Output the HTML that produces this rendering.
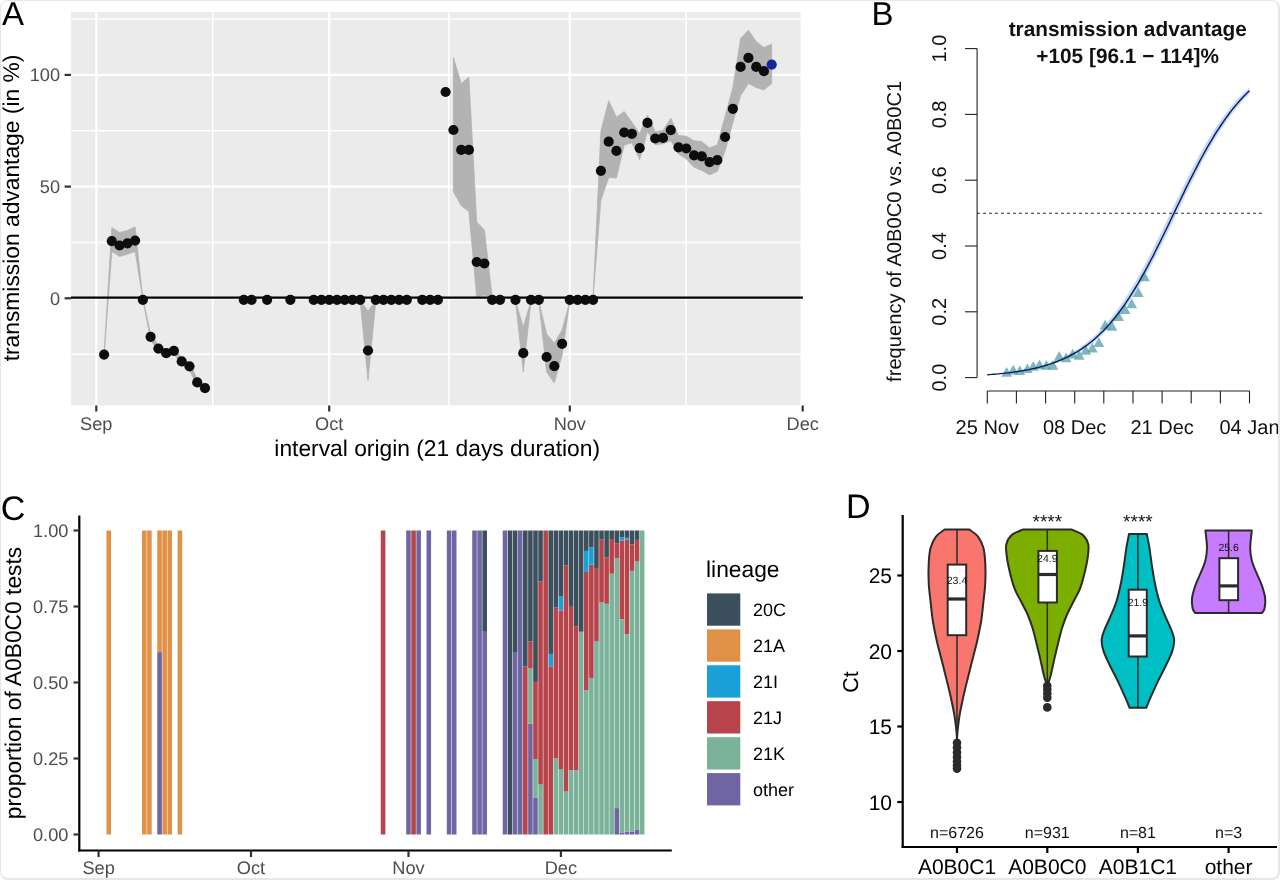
<!DOCTYPE html>
<html lang="en"><head><meta charset="utf-8"><title>Figure</title>
<style>
html,body{margin:0;padding:0;background:#fff;}
body{width:1280px;height:880px;overflow:hidden;position:relative;font-family:"Liberation Sans",Arial,sans-serif;}
svg{display:block;position:absolute;left:0;top:0;will-change:transform;}

.frame{position:absolute;left:0;top:0;width:1277px;height:877px;border-style:solid;border-color:#e6e6e6;border-width:1px 2px 2px 1px;border-radius:8px;pointer-events:none;}
</style></head><body>
<svg width="1280" height="880" viewBox="0 0 1280 880" text-rendering="geometricPrecision">
<g id="panelA">
<rect x="71.0" y="12.2" width="729.5" height="393.3" fill="#ebebeb"/>
<line x1="71.0" x2="800.5" y1="19.1" y2="19.1" stroke="#fff" stroke-width="1.5"/>
<line x1="71.0" x2="800.5" y1="130.8" y2="130.8" stroke="#fff" stroke-width="1.5"/>
<line x1="71.0" x2="800.5" y1="242.5" y2="242.5" stroke="#fff" stroke-width="1.5"/>
<line x1="71.0" x2="800.5" y1="354.2" y2="354.2" stroke="#fff" stroke-width="1.5"/>
<line x1="212.7" x2="212.7" y1="12.2" y2="405.5" stroke="#fff" stroke-width="1.5"/>
<line x1="448.8" x2="448.8" y1="12.2" y2="405.5" stroke="#fff" stroke-width="1.5"/>
<line x1="686.1" x2="686.1" y1="12.2" y2="405.5" stroke="#fff" stroke-width="1.5"/>
<line x1="71.0" x2="800.5" y1="74.9" y2="74.9" stroke="#fff" stroke-width="2.2"/>
<line x1="71.0" x2="800.5" y1="186.6" y2="186.6" stroke="#fff" stroke-width="2.2"/>
<line x1="71.0" x2="800.5" y1="298.3" y2="298.3" stroke="#fff" stroke-width="2.2"/>
<line x1="96.3" x2="96.3" y1="12.2" y2="405.5" stroke="#fff" stroke-width="2.2"/>
<line x1="329.2" x2="329.2" y1="12.2" y2="405.5" stroke="#fff" stroke-width="2.2"/>
<line x1="569.8" x2="569.8" y1="12.2" y2="405.5" stroke="#fff" stroke-width="2.2"/>
<line x1="802.7" x2="802.7" y1="12.2" y2="405.5" stroke="#fff" stroke-width="2.2"/>
<polygon points="104.1,354.6 111.8,227.7 119.6,232.4 127.4,230.5 135.1,226.9 142.9,299.5 150.6,333.5 158.4,345.5 166.2,350.0 173.9,347.5 181.7,358.0 189.5,363.0 197.2,379.0 205.0,385.0 205.0,391.0 197.2,386.0 189.5,370.0 181.7,365.0 173.9,354.0 166.2,356.5 158.4,352.0 150.6,340.0 142.9,299.5 135.1,251.5 127.4,254.2 119.6,256.4 111.8,251.5 104.1,354.6" fill="#b3b3b3" stroke="#b3b3b3" stroke-width="0.8" stroke-linejoin="round"/>
<polygon points="360.2,301.0 368.0,311.0 375.8,301.0 375.8,301.0 368.0,380.5 360.2,301.0" fill="#b3b3b3" stroke="#b3b3b3" stroke-width="0.8" stroke-linejoin="round"/>
<polygon points="453.4,57.4 461.2,83.4 468.9,77.2 476.7,222.0 484.4,230.0 492.2,297.0 492.2,297.0 484.4,295.0 476.7,297.0 468.9,211.5 461.2,205.7 453.4,191.4" fill="#b3b3b3" stroke="#b3b3b3" stroke-width="0.8" stroke-linejoin="round"/>
<polygon points="515.5,301.0 523.3,327.0 531.0,301.0 531.0,301.0 523.3,372.0 515.5,301.0" fill="#b3b3b3" stroke="#b3b3b3" stroke-width="0.8" stroke-linejoin="round"/>
<polygon points="538.8,301.0 546.6,334.0 554.3,343.0 562.1,330.0 569.8,301.0 569.8,301.0 562.1,355.0 554.3,383.0 546.6,372.0 538.8,301.0" fill="#b3b3b3" stroke="#b3b3b3" stroke-width="0.8" stroke-linejoin="round"/>
<polygon points="593.1,297.0 600.9,131.0 608.7,100.8 616.4,117.2 624.2,111.5 631.9,122.3 639.7,133.6 647.5,115.1 655.2,131.5 663.0,130.5 670.8,118.2 678.5,135.6 686.3,136.2 694.1,140.7 701.8,141.7 709.6,147.9 717.3,144.8 725.1,116.2 732.9,87.5 740.6,38.4 748.4,30.2 756.2,41.5 763.9,47.6 771.7,44.1 771.7,83.4 763.9,90.0 756.2,87.5 748.4,83.4 740.6,95.7 732.9,122.3 725.1,150.9 717.3,171.4 709.6,174.9 701.8,170.4 694.1,167.3 686.3,159.1 678.5,154.0 670.8,140.7 663.0,143.8 655.2,144.8 647.5,131.5 639.7,159.7 631.9,142.8 624.2,145.2 616.4,178.0 608.7,177.5 600.9,200.0 593.1,297.0" fill="#b3b3b3" stroke="#b3b3b3" stroke-width="0.8" stroke-linejoin="round"/>
<line x1="71.0" x2="802.9" y1="297.6" y2="297.6" stroke="#000" stroke-width="2.2"/>
<circle cx="104.1" cy="354.6" r="5.1" fill="#0d0d0d"/>
<circle cx="111.8" cy="241.1" r="5.1" fill="#0d0d0d"/>
<circle cx="119.6" cy="245.5" r="5.1" fill="#0d0d0d"/>
<circle cx="127.4" cy="243.3" r="5.1" fill="#0d0d0d"/>
<circle cx="135.1" cy="240.6" r="5.1" fill="#0d0d0d"/>
<circle cx="142.9" cy="299.8" r="5.1" fill="#0d0d0d"/>
<circle cx="150.6" cy="336.8" r="5.1" fill="#0d0d0d"/>
<circle cx="158.4" cy="348.6" r="5.1" fill="#0d0d0d"/>
<circle cx="166.2" cy="353.2" r="5.1" fill="#0d0d0d"/>
<circle cx="173.9" cy="350.8" r="5.1" fill="#0d0d0d"/>
<circle cx="181.7" cy="361.4" r="5.1" fill="#0d0d0d"/>
<circle cx="189.5" cy="366.3" r="5.1" fill="#0d0d0d"/>
<circle cx="197.2" cy="382.4" r="5.1" fill="#0d0d0d"/>
<circle cx="205.0" cy="388.1" r="5.1" fill="#0d0d0d"/>
<circle cx="243.8" cy="299.8" r="5.1" fill="#0d0d0d"/>
<circle cx="251.6" cy="299.8" r="5.1" fill="#0d0d0d"/>
<circle cx="267.1" cy="299.8" r="5.1" fill="#0d0d0d"/>
<circle cx="290.4" cy="299.8" r="5.1" fill="#0d0d0d"/>
<circle cx="313.7" cy="299.8" r="5.1" fill="#0d0d0d"/>
<circle cx="321.4" cy="299.8" r="5.1" fill="#0d0d0d"/>
<circle cx="329.2" cy="299.8" r="5.1" fill="#0d0d0d"/>
<circle cx="337.0" cy="299.8" r="5.1" fill="#0d0d0d"/>
<circle cx="344.7" cy="299.8" r="5.1" fill="#0d0d0d"/>
<circle cx="352.5" cy="299.8" r="5.1" fill="#0d0d0d"/>
<circle cx="360.2" cy="299.8" r="5.1" fill="#0d0d0d"/>
<circle cx="375.8" cy="299.8" r="5.1" fill="#0d0d0d"/>
<circle cx="383.5" cy="299.8" r="5.1" fill="#0d0d0d"/>
<circle cx="391.3" cy="299.8" r="5.1" fill="#0d0d0d"/>
<circle cx="399.1" cy="299.8" r="5.1" fill="#0d0d0d"/>
<circle cx="406.8" cy="299.8" r="5.1" fill="#0d0d0d"/>
<circle cx="422.3" cy="299.8" r="5.1" fill="#0d0d0d"/>
<circle cx="430.1" cy="299.8" r="5.1" fill="#0d0d0d"/>
<circle cx="437.9" cy="299.8" r="5.1" fill="#0d0d0d"/>
<circle cx="492.2" cy="299.8" r="5.1" fill="#0d0d0d"/>
<circle cx="500.0" cy="299.8" r="5.1" fill="#0d0d0d"/>
<circle cx="515.5" cy="299.8" r="5.1" fill="#0d0d0d"/>
<circle cx="531.0" cy="299.8" r="5.1" fill="#0d0d0d"/>
<circle cx="538.8" cy="299.8" r="5.1" fill="#0d0d0d"/>
<circle cx="569.8" cy="299.8" r="5.1" fill="#0d0d0d"/>
<circle cx="577.6" cy="299.8" r="5.1" fill="#0d0d0d"/>
<circle cx="585.4" cy="299.8" r="5.1" fill="#0d0d0d"/>
<circle cx="593.1" cy="299.8" r="5.1" fill="#0d0d0d"/>
<circle cx="368.0" cy="350.5" r="5.1" fill="#0d0d0d"/>
<circle cx="445.6" cy="92.0" r="5.1" fill="#0d0d0d"/>
<circle cx="453.4" cy="130.0" r="5.1" fill="#0d0d0d"/>
<circle cx="461.2" cy="149.9" r="5.1" fill="#0d0d0d"/>
<circle cx="468.9" cy="149.9" r="5.1" fill="#0d0d0d"/>
<circle cx="476.7" cy="262.0" r="5.1" fill="#0d0d0d"/>
<circle cx="484.4" cy="263.5" r="5.1" fill="#0d0d0d"/>
<circle cx="523.3" cy="353.2" r="5.1" fill="#0d0d0d"/>
<circle cx="546.6" cy="357.0" r="5.1" fill="#0d0d0d"/>
<circle cx="554.3" cy="366.2" r="5.1" fill="#0d0d0d"/>
<circle cx="562.1" cy="343.8" r="5.1" fill="#0d0d0d"/>
<circle cx="600.9" cy="170.8" r="5.1" fill="#0d0d0d"/>
<circle cx="608.7" cy="141.7" r="5.1" fill="#0d0d0d"/>
<circle cx="616.4" cy="150.9" r="5.1" fill="#0d0d0d"/>
<circle cx="624.2" cy="132.5" r="5.1" fill="#0d0d0d"/>
<circle cx="631.9" cy="133.8" r="5.1" fill="#0d0d0d"/>
<circle cx="639.7" cy="148.1" r="5.1" fill="#0d0d0d"/>
<circle cx="647.5" cy="122.9" r="5.1" fill="#0d0d0d"/>
<circle cx="655.2" cy="138.5" r="5.1" fill="#0d0d0d"/>
<circle cx="663.0" cy="137.9" r="5.1" fill="#0d0d0d"/>
<circle cx="670.8" cy="130.1" r="5.1" fill="#0d0d0d"/>
<circle cx="678.5" cy="147.3" r="5.1" fill="#0d0d0d"/>
<circle cx="686.3" cy="148.5" r="5.1" fill="#0d0d0d"/>
<circle cx="694.1" cy="155.4" r="5.1" fill="#0d0d0d"/>
<circle cx="701.8" cy="156.3" r="5.1" fill="#0d0d0d"/>
<circle cx="709.6" cy="162.2" r="5.1" fill="#0d0d0d"/>
<circle cx="717.3" cy="160.2" r="5.1" fill="#0d0d0d"/>
<circle cx="725.1" cy="137.0" r="5.1" fill="#0d0d0d"/>
<circle cx="732.9" cy="108.8" r="5.1" fill="#0d0d0d"/>
<circle cx="740.6" cy="66.9" r="5.1" fill="#0d0d0d"/>
<circle cx="748.4" cy="57.9" r="5.1" fill="#0d0d0d"/>
<circle cx="756.2" cy="66.9" r="5.1" fill="#0d0d0d"/>
<circle cx="763.9" cy="71.2" r="5.1" fill="#0d0d0d"/>
<circle cx="771.7" cy="64.6" r="5.1" fill="#16269a"/>
<line x1="64.6" x2="71.0" y1="74.9" y2="74.9" stroke="#333" stroke-width="2.2"/>
<text x="60.1" y="81.4" text-anchor="end" font-size="18.2" fill="#4d4d4d" font-family="Liberation Sans, Arial, Helvetica, sans-serif">100</text>
<line x1="64.6" x2="71.0" y1="186.6" y2="186.6" stroke="#333" stroke-width="2.2"/>
<text x="60.1" y="193.1" text-anchor="end" font-size="18.2" fill="#4d4d4d" font-family="Liberation Sans, Arial, Helvetica, sans-serif">50</text>
<line x1="64.6" x2="71.0" y1="298.3" y2="298.3" stroke="#333" stroke-width="2.2"/>
<text x="60.1" y="304.8" text-anchor="end" font-size="18.2" fill="#4d4d4d" font-family="Liberation Sans, Arial, Helvetica, sans-serif">0</text>
<line x1="96.3" x2="96.3" y1="405.5" y2="411.5" stroke="#333" stroke-width="2.2"/>
<text x="96.3" y="430" text-anchor="middle" font-size="18.2" fill="#4d4d4d" font-family="Liberation Sans, Arial, Helvetica, sans-serif">Sep</text>
<line x1="329.2" x2="329.2" y1="405.5" y2="411.5" stroke="#333" stroke-width="2.2"/>
<text x="329.2" y="430" text-anchor="middle" font-size="18.2" fill="#4d4d4d" font-family="Liberation Sans, Arial, Helvetica, sans-serif">Oct</text>
<line x1="569.8" x2="569.8" y1="405.5" y2="411.5" stroke="#333" stroke-width="2.2"/>
<text x="569.8" y="430" text-anchor="middle" font-size="18.2" fill="#4d4d4d" font-family="Liberation Sans, Arial, Helvetica, sans-serif">Nov</text>
<line x1="802.7" x2="802.7" y1="405.5" y2="411.5" stroke="#333" stroke-width="2.2"/>
<text x="802.7" y="430" text-anchor="middle" font-size="18.2" fill="#4d4d4d" font-family="Liberation Sans, Arial, Helvetica, sans-serif">Dec</text>
<text x="437.2" y="455.5" text-anchor="middle" font-size="22.8" fill="#000" font-family="Liberation Sans, Arial, Helvetica, sans-serif">interval origin (21 days duration)</text>
<text transform="translate(19,208) rotate(-90)" text-anchor="middle" font-size="22.8" fill="#000" font-family="Liberation Sans, Arial, Helvetica, sans-serif">transmission advantage (in %)</text>
<text x="1.9" y="25" font-size="33" fill="#000" font-family="Liberation Sans, Arial, Helvetica, sans-serif">A</text>
</g>
<g id="panelB">
<text x="871.4" y="25" font-size="33" fill="#000" font-family="Liberation Sans, Arial, Helvetica, sans-serif">B</text>
<polygon points="987.3,374.5 989.5,374.3 991.7,374.1 993.9,373.9 996.0,373.7 998.2,373.5 1000.4,373.3 1002.6,373.0 1004.8,372.8 1007.0,372.5 1009.1,372.2 1011.3,371.9 1013.5,371.6 1015.7,371.3 1017.9,370.9 1020.1,370.5 1022.3,370.1 1024.4,369.7 1026.6,369.3 1028.8,368.8 1031.0,368.3 1033.2,367.8 1035.4,367.3 1037.6,366.7 1039.7,366.1 1041.9,365.5 1044.1,364.8 1046.3,364.1 1048.5,363.4 1050.7,362.6 1052.8,361.8 1055.0,360.9 1057.2,360.0 1059.4,359.1 1061.6,358.1 1063.8,357.0 1066.0,355.9 1068.1,354.8 1070.3,353.6 1072.5,352.3 1074.7,351.0 1076.9,349.6 1079.1,348.2 1081.3,346.6 1083.4,345.0 1085.6,343.4 1087.8,341.6 1090.0,339.8 1092.2,337.9 1094.4,335.9 1096.5,333.9 1098.7,331.7 1100.9,329.5 1103.1,327.2 1105.3,324.8 1107.5,322.3 1109.7,319.7 1111.8,317.0 1114.0,314.2 1116.2,311.3 1118.4,308.3 1120.6,305.2 1122.8,302.0 1125.0,298.7 1127.1,295.4 1129.3,291.9 1131.5,288.3 1133.7,284.7 1135.9,280.9 1138.1,277.1 1140.2,273.2 1142.4,269.2 1144.6,265.1 1146.8,261.0 1149.0,256.8 1151.2,252.5 1153.4,248.2 1155.5,243.8 1157.7,239.3 1159.9,234.9 1162.1,230.4 1164.3,225.8 1166.5,221.3 1168.7,216.7 1170.8,212.2 1173.0,207.6 1175.2,203.1 1177.4,198.5 1179.6,194.0 1181.8,189.5 1184.0,185.1 1186.1,180.7 1188.3,176.3 1190.5,172.0 1192.7,167.7 1194.9,163.6 1197.1,159.4 1199.2,155.4 1201.4,151.4 1203.6,147.6 1205.8,143.8 1208.0,140.0 1210.2,136.4 1212.4,132.9 1214.5,129.5 1216.7,126.1 1218.9,122.9 1221.1,119.7 1223.3,116.7 1225.5,113.8 1227.7,110.9 1229.8,108.1 1232.0,105.5 1234.2,102.9 1236.4,100.5 1238.6,98.1 1240.8,95.8 1242.9,93.6 1245.1,91.5 1247.3,89.4 1249.5,87.5 1249.5,93.6 1247.3,95.8 1245.1,98.1 1242.9,100.5 1240.8,103.0 1238.6,105.5 1236.4,108.2 1234.2,111.0 1232.0,113.8 1229.8,116.8 1227.7,119.8 1225.5,123.0 1223.3,126.2 1221.1,129.5 1218.9,133.0 1216.7,136.5 1214.5,140.1 1212.4,143.8 1210.2,147.6 1208.0,151.5 1205.8,155.5 1203.6,159.5 1201.4,163.6 1199.2,167.8 1197.1,172.1 1194.9,176.4 1192.7,180.7 1190.5,185.2 1188.3,189.6 1186.1,194.1 1184.0,198.6 1181.8,203.2 1179.6,207.7 1177.4,212.3 1175.2,216.8 1173.0,221.4 1170.8,225.9 1168.7,230.5 1166.5,235.0 1164.3,239.4 1162.1,243.9 1159.9,248.2 1157.7,252.6 1155.5,256.8 1153.4,261.1 1151.2,265.2 1149.0,269.3 1146.8,273.3 1144.6,277.2 1142.4,281.0 1140.2,284.7 1138.1,288.4 1135.9,292.0 1133.7,295.4 1131.5,298.8 1129.3,302.1 1127.1,305.3 1125.0,308.3 1122.8,311.3 1120.6,314.2 1118.4,317.0 1116.2,319.7 1114.0,322.3 1111.8,324.8 1109.7,327.2 1107.5,329.6 1105.3,331.8 1103.1,333.9 1100.9,336.0 1098.7,338.0 1096.5,339.9 1094.4,341.7 1092.2,343.4 1090.0,345.1 1087.8,346.7 1085.6,348.2 1083.4,349.6 1081.3,351.0 1079.1,352.4 1076.9,353.6 1074.7,354.8 1072.5,356.0 1070.3,357.1 1068.1,358.1 1066.0,359.1 1063.8,360.0 1061.6,360.9 1059.4,361.8 1057.2,362.6 1055.0,363.4 1052.8,364.1 1050.7,364.8 1048.5,365.5 1046.3,366.1 1044.1,366.7 1041.9,367.3 1039.7,367.8 1037.6,368.3 1035.4,368.8 1033.2,369.3 1031.0,369.7 1028.8,370.1 1026.6,370.5 1024.4,370.9 1022.3,371.3 1020.1,371.6 1017.9,371.9 1015.7,372.2 1013.5,372.5 1011.3,372.8 1009.1,373.0 1007.0,373.3 1004.8,373.5 1002.6,373.7 1000.4,373.9 998.2,374.1 996.0,374.3 993.9,374.5 991.7,374.7 989.5,374.8 987.3,375.0" fill="#c3d8f5"/>
<polygon points="1001.3,376.7 1012.1,376.7 1006.7,367.0" fill="#5ba3ac" fill-opacity="0.78"/>
<polygon points="1007.8,374.4 1018.6,374.4 1013.2,364.7" fill="#5ba3ac" fill-opacity="0.78"/>
<polygon points="1014.4,375.1 1025.2,375.1 1019.8,365.4" fill="#5ba3ac" fill-opacity="0.78"/>
<polygon points="1021.9,373.1 1032.7,373.1 1027.3,363.4" fill="#5ba3ac" fill-opacity="0.78"/>
<polygon points="1027.9,370.8 1038.7,370.8 1033.3,361.1" fill="#5ba3ac" fill-opacity="0.78"/>
<polygon points="1034.1,369.2 1044.9,369.2 1039.5,359.5" fill="#5ba3ac" fill-opacity="0.78"/>
<polygon points="1041.0,369.8 1051.8,369.8 1046.4,360.1" fill="#5ba3ac" fill-opacity="0.78"/>
<polygon points="1047.5,369.8 1058.3,369.8 1052.9,360.1" fill="#5ba3ac" fill-opacity="0.78"/>
<polygon points="1053.8,360.7 1064.6,360.7 1059.2,351.0" fill="#5ba3ac" fill-opacity="0.78"/>
<polygon points="1060.7,362.3 1071.5,362.3 1066.1,352.6" fill="#5ba3ac" fill-opacity="0.78"/>
<polygon points="1067.2,358.4 1078.0,358.4 1072.6,348.7" fill="#5ba3ac" fill-opacity="0.78"/>
<polygon points="1073.8,359.7 1084.6,359.7 1079.2,350.0" fill="#5ba3ac" fill-opacity="0.78"/>
<polygon points="1080.4,354.8 1091.2,354.8 1085.8,345.1" fill="#5ba3ac" fill-opacity="0.78"/>
<polygon points="1086.9,352.5 1097.7,352.5 1092.3,342.8" fill="#5ba3ac" fill-opacity="0.78"/>
<polygon points="1093.5,346.9 1104.3,346.9 1098.9,337.2" fill="#5ba3ac" fill-opacity="0.78"/>
<polygon points="1099.7,329.5 1110.5,329.5 1105.1,319.8" fill="#5ba3ac" fill-opacity="0.78"/>
<polygon points="1106.6,330.8 1117.4,330.8 1112.0,321.1" fill="#5ba3ac" fill-opacity="0.78"/>
<polygon points="1113.2,321.0 1124.0,321.0 1118.6,311.3" fill="#5ba3ac" fill-opacity="0.78"/>
<polygon points="1119.7,314.1 1130.5,314.1 1125.1,304.4" fill="#5ba3ac" fill-opacity="0.78"/>
<polygon points="1126.3,308.2 1137.1,308.2 1131.7,298.5" fill="#5ba3ac" fill-opacity="0.78"/>
<polygon points="1132.9,297.0 1143.7,297.0 1138.3,287.3" fill="#5ba3ac" fill-opacity="0.78"/>
<polygon points="1139.1,281.3 1149.9,281.3 1144.5,271.6" fill="#5ba3ac" fill-opacity="0.78"/>
<polyline points="987.3,374.8 989.5,374.6 991.7,374.4 993.9,374.2 996.0,374.1 998.2,373.9 1000.4,373.6 1002.6,373.4 1004.8,373.2 1007.0,372.9 1009.1,372.7 1011.3,372.4 1013.5,372.1 1015.7,371.8 1017.9,371.5 1020.1,371.1 1022.3,370.8 1024.4,370.4 1026.6,370.0 1028.8,369.6 1031.0,369.1 1033.2,368.6 1035.4,368.2 1037.6,367.6 1039.7,367.1 1041.9,366.5 1044.1,365.9 1046.3,365.2 1048.5,364.6 1050.7,363.9 1052.8,363.1 1055.0,362.3 1057.2,361.5 1059.4,360.6 1061.6,359.7 1063.8,358.7 1066.0,357.7 1068.1,356.7 1070.3,355.5 1072.5,354.4 1074.7,353.2 1076.9,351.9 1079.1,350.5 1081.3,349.1 1083.4,347.6 1085.6,346.1 1087.8,344.5 1090.0,342.8 1092.2,341.0 1094.4,339.2 1096.5,337.2 1098.7,335.2 1100.9,333.1 1103.1,331.0 1105.3,328.7 1107.5,326.3 1109.7,323.9 1111.8,321.3 1114.0,318.7 1116.2,316.0 1118.4,313.2 1120.6,310.2 1122.8,307.2 1125.0,304.1 1127.1,300.9 1129.3,297.6 1131.5,294.1 1133.7,290.6 1135.9,287.0 1138.1,283.4 1140.2,279.6 1142.4,275.7 1144.6,271.8 1146.8,267.8 1149.0,263.7 1151.2,259.5 1153.4,255.3 1155.5,251.0 1157.7,246.6 1159.9,242.2 1162.1,237.8 1164.3,233.3 1166.5,228.8 1168.7,224.2 1170.8,219.7 1173.0,215.1 1175.2,210.6 1177.4,206.0 1179.6,201.5 1181.8,196.9 1184.0,192.4 1186.1,187.9 1188.3,183.5 1190.5,179.1 1192.7,174.8 1194.9,170.5 1197.1,166.3 1199.2,162.1 1201.4,158.0 1203.6,154.0 1205.8,150.1 1208.0,146.2 1210.2,142.4 1212.4,138.8 1214.5,135.2 1216.7,131.7 1218.9,128.3 1221.1,125.0 1223.3,121.8 1225.5,118.7 1227.7,115.7 1229.8,112.7 1232.0,109.9 1234.2,107.2 1236.4,104.6 1238.6,102.0 1240.8,99.6 1242.9,97.3 1245.1,95.0 1247.3,92.8 1249.5,90.8" fill="none" stroke="#0a1f5c" stroke-width="1.45"/>
<line x1="977.1" x2="1262" y1="213.2" y2="213.2" stroke="#222" stroke-width="1.1" stroke-dasharray="2.8,3.2"/>
<line x1="977.1" x2="977.1" y1="48.6" y2="377.6" stroke="#222" stroke-width="1.1"/>
<line x1="965" x2="977.1" y1="377.6" y2="377.6" stroke="#222" stroke-width="1.1"/>
<text transform="translate(946.2,377.6) rotate(-90)" text-anchor="middle" font-size="20" fill="#111" font-family="Liberation Sans, Arial, Helvetica, sans-serif">0.0</text>
<line x1="965" x2="977.1" y1="311.8" y2="311.8" stroke="#222" stroke-width="1.1"/>
<text transform="translate(946.2,311.8) rotate(-90)" text-anchor="middle" font-size="20" fill="#111" font-family="Liberation Sans, Arial, Helvetica, sans-serif">0.2</text>
<line x1="965" x2="977.1" y1="246.0" y2="246.0" stroke="#222" stroke-width="1.1"/>
<text transform="translate(946.2,246.0) rotate(-90)" text-anchor="middle" font-size="20" fill="#111" font-family="Liberation Sans, Arial, Helvetica, sans-serif">0.4</text>
<line x1="965" x2="977.1" y1="180.2" y2="180.2" stroke="#222" stroke-width="1.1"/>
<text transform="translate(946.2,180.2) rotate(-90)" text-anchor="middle" font-size="20" fill="#111" font-family="Liberation Sans, Arial, Helvetica, sans-serif">0.6</text>
<line x1="965" x2="977.1" y1="114.4" y2="114.4" stroke="#222" stroke-width="1.1"/>
<text transform="translate(946.2,114.4) rotate(-90)" text-anchor="middle" font-size="20" fill="#111" font-family="Liberation Sans, Arial, Helvetica, sans-serif">0.8</text>
<line x1="965" x2="977.1" y1="48.6" y2="48.6" stroke="#222" stroke-width="1.1"/>
<text transform="translate(946.2,48.6) rotate(-90)" text-anchor="middle" font-size="20" fill="#111" font-family="Liberation Sans, Arial, Helvetica, sans-serif">1.0</text>
<line x1="987.3" x2="1249.5" y1="391" y2="391" stroke="#222" stroke-width="1.1"/>
<line x1="987.3" x2="987.3" y1="391" y2="403.4" stroke="#222" stroke-width="1.1"/>
<line x1="1016.4" x2="1016.4" y1="391" y2="403.4" stroke="#222" stroke-width="1.1"/>
<line x1="1045.6" x2="1045.6" y1="391" y2="403.4" stroke="#222" stroke-width="1.1"/>
<line x1="1074.7" x2="1074.7" y1="391" y2="403.4" stroke="#222" stroke-width="1.1"/>
<line x1="1103.8" x2="1103.8" y1="391" y2="403.4" stroke="#222" stroke-width="1.1"/>
<line x1="1133.0" x2="1133.0" y1="391" y2="403.4" stroke="#222" stroke-width="1.1"/>
<line x1="1162.1" x2="1162.1" y1="391" y2="403.4" stroke="#222" stroke-width="1.1"/>
<line x1="1191.2" x2="1191.2" y1="391" y2="403.4" stroke="#222" stroke-width="1.1"/>
<line x1="1220.4" x2="1220.4" y1="391" y2="403.4" stroke="#222" stroke-width="1.1"/>
<line x1="1249.5" x2="1249.5" y1="391" y2="403.4" stroke="#222" stroke-width="1.1"/>
<text x="987.3" y="433.8" text-anchor="middle" font-size="20" fill="#111" font-family="Liberation Sans, Arial, Helvetica, sans-serif">25 Nov</text>
<text x="1074.7" y="433.8" text-anchor="middle" font-size="20" fill="#111" font-family="Liberation Sans, Arial, Helvetica, sans-serif">08 Dec</text>
<text x="1162.1" y="433.8" text-anchor="middle" font-size="20" fill="#111" font-family="Liberation Sans, Arial, Helvetica, sans-serif">21 Dec</text>
<text x="1249.5" y="433.8" text-anchor="middle" font-size="20" fill="#111" font-family="Liberation Sans, Arial, Helvetica, sans-serif">04 Jan</text>
<text transform="translate(900.6,231.3) rotate(-90)" text-anchor="middle" font-size="20.15" fill="#111" font-family="Liberation Sans, Arial, Helvetica, sans-serif">frequency of A0B0C0 vs. A0B0C1</text>
<text x="1127.7" y="36.2" text-anchor="middle" font-size="20.8" font-weight="bold" fill="#111" font-family="Liberation Sans, Arial, Helvetica, sans-serif">transmission advantage</text>
<text x="1127.7" y="63.1" text-anchor="middle" font-size="20.8" font-weight="bold" fill="#111" font-family="Liberation Sans, Arial, Helvetica, sans-serif">+105 [96.1 − 114]%</text>
</g>
<g id="panelC">
<text x="0.8" y="519.7" font-size="34" fill="#000" font-family="Liberation Sans, Arial, Helvetica, sans-serif">C</text>
<rect x="106.47" y="530.5" width="4.57" height="304.0" fill="#e09148"/>
<rect x="142.03" y="530.5" width="4.57" height="304.0" fill="#e09148"/>
<rect x="147.11" y="530.5" width="4.57" height="304.0" fill="#e09148"/>
<rect x="162.35" y="530.5" width="4.57" height="304.0" fill="#e09148"/>
<rect x="167.44" y="530.5" width="4.57" height="304.0" fill="#e09148"/>
<rect x="177.59" y="530.5" width="4.57" height="304.0" fill="#e09148"/>
<rect x="157.28" y="652.1" width="4.57" height="182.4" fill="#6f65a3"/>
<rect x="157.28" y="530.5" width="4.57" height="121.6" fill="#e09148"/>
<rect x="380.80" y="530.5" width="4.57" height="304.0" fill="#b6444a"/>
<rect x="406.19" y="530.5" width="4.57" height="304.0" fill="#6f65a3"/>
<rect x="416.35" y="530.5" width="4.57" height="304.0" fill="#6f65a3"/>
<rect x="426.51" y="530.5" width="4.57" height="304.0" fill="#6f65a3"/>
<rect x="446.83" y="530.5" width="4.57" height="304.0" fill="#6f65a3"/>
<rect x="451.92" y="530.5" width="4.57" height="304.0" fill="#6f65a3"/>
<rect x="472.23" y="530.5" width="4.57" height="304.0" fill="#6f65a3"/>
<rect x="477.31" y="530.5" width="4.57" height="304.0" fill="#6f65a3"/>
<rect x="411.27" y="530.5" width="4.57" height="304.0" fill="#b6444a"/>
<rect x="482.39" y="631.7" width="4.57" height="202.8" fill="#6f65a3"/>
<rect x="482.39" y="530.5" width="4.57" height="101.2" fill="#3b4f5c"/>
<rect x="502.71" y="530.5" width="4.57" height="304.0" fill="#6f65a3"/>
<rect x="507.80" y="530.5" width="4.57" height="304.0" fill="#3b4f5c"/>
<rect x="512.88" y="652.7" width="4.57" height="181.8" fill="#6f65a3"/>
<rect x="512.88" y="530.5" width="4.57" height="122.2" fill="#3b4f5c"/>
<rect x="517.96" y="530.5" width="4.57" height="304.0" fill="#6f65a3"/>
<rect x="523.04" y="666.4" width="4.57" height="168.1" fill="#b6444a"/>
<rect x="523.04" y="530.5" width="4.57" height="135.9" fill="#3b4f5c"/>
<rect x="528.12" y="723.5" width="4.57" height="111.0" fill="#6f65a3"/>
<rect x="528.12" y="668.2" width="4.57" height="55.3" fill="#7bb39a"/>
<rect x="528.12" y="641.5" width="4.57" height="26.8" fill="#b6444a"/>
<rect x="528.12" y="530.5" width="4.57" height="111.0" fill="#3b4f5c"/>
<rect x="533.20" y="797.4" width="4.57" height="37.1" fill="#6f65a3"/>
<rect x="533.20" y="759.1" width="4.57" height="38.3" fill="#7bb39a"/>
<rect x="533.20" y="681.9" width="4.57" height="77.2" fill="#b6444a"/>
<rect x="533.20" y="530.5" width="4.57" height="151.4" fill="#3b4f5c"/>
<rect x="538.27" y="784.0" width="4.57" height="50.5" fill="#7bb39a"/>
<rect x="538.27" y="581.6" width="4.57" height="202.5" fill="#b6444a"/>
<rect x="538.27" y="530.5" width="4.57" height="51.1" fill="#3b4f5c"/>
<rect x="543.36" y="530.5" width="4.57" height="304.0" fill="#b6444a"/>
<rect x="548.44" y="666.4" width="4.57" height="168.1" fill="#b6444a"/>
<rect x="548.44" y="653.9" width="4.57" height="12.5" fill="#1a9fd6"/>
<rect x="548.44" y="530.5" width="4.57" height="123.4" fill="#3b4f5c"/>
<rect x="553.51" y="758.2" width="4.57" height="76.3" fill="#7bb39a"/>
<rect x="553.51" y="607.4" width="4.57" height="150.8" fill="#b6444a"/>
<rect x="553.51" y="530.5" width="4.57" height="76.9" fill="#3b4f5c"/>
<rect x="558.60" y="769.1" width="4.57" height="65.4" fill="#7bb39a"/>
<rect x="558.60" y="610.5" width="4.57" height="158.7" fill="#b6444a"/>
<rect x="558.60" y="596.5" width="4.57" height="14.0" fill="#1a9fd6"/>
<rect x="558.60" y="530.5" width="4.57" height="66.0" fill="#3b4f5c"/>
<rect x="563.68" y="791.3" width="4.57" height="43.2" fill="#7bb39a"/>
<rect x="563.68" y="565.5" width="4.57" height="225.9" fill="#b6444a"/>
<rect x="563.68" y="530.5" width="4.57" height="35.0" fill="#3b4f5c"/>
<rect x="568.75" y="770.1" width="4.57" height="64.4" fill="#7bb39a"/>
<rect x="568.75" y="606.8" width="4.57" height="163.2" fill="#b6444a"/>
<rect x="568.75" y="530.5" width="4.57" height="76.3" fill="#3b4f5c"/>
<rect x="573.84" y="770.4" width="4.57" height="64.1" fill="#7bb39a"/>
<rect x="573.84" y="626.3" width="4.57" height="144.1" fill="#b6444a"/>
<rect x="573.84" y="530.5" width="4.57" height="95.8" fill="#3b4f5c"/>
<rect x="578.92" y="631.7" width="4.57" height="202.8" fill="#7bb39a"/>
<rect x="578.92" y="530.5" width="4.57" height="101.2" fill="#3b4f5c"/>
<rect x="584.00" y="690.4" width="4.57" height="144.1" fill="#7bb39a"/>
<rect x="584.00" y="571.8" width="4.57" height="118.6" fill="#b6444a"/>
<rect x="584.00" y="550.9" width="4.57" height="21.0" fill="#1a9fd6"/>
<rect x="584.00" y="530.5" width="4.57" height="20.4" fill="#3b4f5c"/>
<rect x="589.08" y="677.9" width="4.57" height="156.6" fill="#7bb39a"/>
<rect x="589.08" y="564.5" width="4.57" height="113.4" fill="#b6444a"/>
<rect x="589.08" y="547.2" width="4.57" height="17.3" fill="#1a9fd6"/>
<rect x="589.08" y="530.5" width="4.57" height="16.7" fill="#3b4f5c"/>
<rect x="594.16" y="641.5" width="4.57" height="193.0" fill="#7bb39a"/>
<rect x="594.16" y="568.8" width="4.57" height="72.7" fill="#b6444a"/>
<rect x="594.16" y="530.5" width="4.57" height="38.3" fill="#3b4f5c"/>
<rect x="599.24" y="602.2" width="4.57" height="232.3" fill="#7bb39a"/>
<rect x="599.24" y="539.6" width="4.57" height="62.6" fill="#b6444a"/>
<rect x="599.24" y="530.5" width="4.57" height="9.1" fill="#3b4f5c"/>
<rect x="604.32" y="603.8" width="4.57" height="230.7" fill="#7bb39a"/>
<rect x="604.32" y="557.3" width="4.57" height="46.5" fill="#b6444a"/>
<rect x="604.32" y="530.5" width="4.57" height="26.8" fill="#3b4f5c"/>
<rect x="609.40" y="573.7" width="4.57" height="260.8" fill="#7bb39a"/>
<rect x="609.40" y="539.0" width="4.57" height="34.7" fill="#b6444a"/>
<rect x="609.40" y="530.5" width="4.57" height="8.5" fill="#3b4f5c"/>
<rect x="614.48" y="808.1" width="4.57" height="26.4" fill="#6f65a3"/>
<rect x="614.48" y="558.2" width="4.57" height="249.9" fill="#7bb39a"/>
<rect x="614.48" y="543.6" width="4.57" height="14.6" fill="#b6444a"/>
<rect x="614.48" y="530.5" width="4.57" height="13.1" fill="#3b4f5c"/>
<rect x="619.56" y="832.4" width="4.57" height="2.1" fill="#6f65a3"/>
<rect x="619.56" y="619.3" width="4.57" height="213.1" fill="#7bb39a"/>
<rect x="619.56" y="540.5" width="4.57" height="78.7" fill="#b6444a"/>
<rect x="619.56" y="537.2" width="4.57" height="3.3" fill="#1a9fd6"/>
<rect x="619.56" y="530.5" width="4.57" height="6.7" fill="#3b4f5c"/>
<rect x="624.64" y="831.5" width="4.57" height="3.0" fill="#6f65a3"/>
<rect x="624.64" y="634.2" width="4.57" height="197.3" fill="#7bb39a"/>
<rect x="624.64" y="539.6" width="4.57" height="94.5" fill="#b6444a"/>
<rect x="624.64" y="537.8" width="4.57" height="1.8" fill="#1a9fd6"/>
<rect x="624.64" y="530.5" width="4.57" height="7.3" fill="#3b4f5c"/>
<rect x="629.72" y="831.5" width="4.57" height="3.0" fill="#6f65a3"/>
<rect x="629.72" y="570.9" width="4.57" height="260.5" fill="#7bb39a"/>
<rect x="629.72" y="544.5" width="4.57" height="26.4" fill="#b6444a"/>
<rect x="629.72" y="530.5" width="4.57" height="14.0" fill="#3b4f5c"/>
<rect x="634.80" y="829.9" width="4.57" height="4.6" fill="#6f65a3"/>
<rect x="634.80" y="561.5" width="4.57" height="268.4" fill="#7bb39a"/>
<rect x="634.80" y="539.9" width="4.57" height="21.6" fill="#b6444a"/>
<rect x="634.80" y="530.5" width="4.57" height="9.4" fill="#3b4f5c"/>
<rect x="639.88" y="530.5" width="4.57" height="304.0" fill="#7bb39a"/>
<line x1="79.3" x2="79.3" y1="515.5" y2="851.5" stroke="#000" stroke-width="2.2"/>
<line x1="78.3" x2="671.8" y1="850.5" y2="850.5" stroke="#000" stroke-width="2.2"/>
<line x1="73.5" x2="79.3" y1="530.5" y2="530.5" stroke="#333" stroke-width="2.2"/>
<text x="68.4" y="537.1" text-anchor="end" font-size="18.2" fill="#4d4d4d" font-family="Liberation Sans, Arial, Helvetica, sans-serif">1.00</text>
<line x1="73.5" x2="79.3" y1="606.5" y2="606.5" stroke="#333" stroke-width="2.2"/>
<text x="68.4" y="613.1" text-anchor="end" font-size="18.2" fill="#4d4d4d" font-family="Liberation Sans, Arial, Helvetica, sans-serif">0.75</text>
<line x1="73.5" x2="79.3" y1="682.5" y2="682.5" stroke="#333" stroke-width="2.2"/>
<text x="68.4" y="689.1" text-anchor="end" font-size="18.2" fill="#4d4d4d" font-family="Liberation Sans, Arial, Helvetica, sans-serif">0.50</text>
<line x1="73.5" x2="79.3" y1="758.5" y2="758.5" stroke="#333" stroke-width="2.2"/>
<text x="68.4" y="765.1" text-anchor="end" font-size="18.2" fill="#4d4d4d" font-family="Liberation Sans, Arial, Helvetica, sans-serif">0.25</text>
<line x1="73.5" x2="79.3" y1="834.5" y2="834.5" stroke="#333" stroke-width="2.2"/>
<text x="68.4" y="841.1" text-anchor="end" font-size="18.2" fill="#4d4d4d" font-family="Liberation Sans, Arial, Helvetica, sans-serif">0.00</text>
<line x1="98.6" x2="98.6" y1="850.5" y2="857" stroke="#333" stroke-width="2.2"/>
<text x="98.6" y="873.9" text-anchor="middle" font-size="18.2" fill="#4d4d4d" font-family="Liberation Sans, Arial, Helvetica, sans-serif">Sep</text>
<line x1="251.0" x2="251.0" y1="850.5" y2="857" stroke="#333" stroke-width="2.2"/>
<text x="251.0" y="873.9" text-anchor="middle" font-size="18.2" fill="#4d4d4d" font-family="Liberation Sans, Arial, Helvetica, sans-serif">Oct</text>
<line x1="408.5" x2="408.5" y1="850.5" y2="857" stroke="#333" stroke-width="2.2"/>
<text x="408.5" y="873.9" text-anchor="middle" font-size="18.2" fill="#4d4d4d" font-family="Liberation Sans, Arial, Helvetica, sans-serif">Nov</text>
<line x1="560.9" x2="560.9" y1="850.5" y2="857" stroke="#333" stroke-width="2.2"/>
<text x="560.9" y="873.9" text-anchor="middle" font-size="18.2" fill="#4d4d4d" font-family="Liberation Sans, Arial, Helvetica, sans-serif">Dec</text>
<text transform="translate(21,683) rotate(-90)" text-anchor="middle" font-size="22.8" fill="#000" font-family="Liberation Sans, Arial, Helvetica, sans-serif">proportion of A0B0C0 tests</text>
<text x="706" y="576.9" font-size="22.8" fill="#000" font-family="Liberation Sans, Arial, Helvetica, sans-serif">lineage</text>
<rect x="707" y="593.4" width="33.3" height="32.3" fill="#3b4f5c"/>
<text x="753" y="616.0" font-size="18" fill="#000" font-family="Liberation Sans, Arial, Helvetica, sans-serif">20C</text>
<rect x="707" y="629.4" width="33.3" height="32.3" fill="#e09148"/>
<text x="753" y="652.0" font-size="18" fill="#000" font-family="Liberation Sans, Arial, Helvetica, sans-serif">21A</text>
<rect x="707" y="665.3" width="33.3" height="32.3" fill="#1a9fd6"/>
<text x="753" y="687.9" font-size="18" fill="#000" font-family="Liberation Sans, Arial, Helvetica, sans-serif">21I</text>
<rect x="707" y="701.2" width="33.3" height="32.3" fill="#b6444a"/>
<text x="753" y="723.9" font-size="18" fill="#000" font-family="Liberation Sans, Arial, Helvetica, sans-serif">21J</text>
<rect x="707" y="737.2" width="33.3" height="32.3" fill="#7bb39a"/>
<text x="753" y="759.8" font-size="18" fill="#000" font-family="Liberation Sans, Arial, Helvetica, sans-serif">21K</text>
<rect x="707" y="773.1" width="33.3" height="32.3" fill="#6f65a3"/>
<text x="753" y="795.8" font-size="18" fill="#000" font-family="Liberation Sans, Arial, Helvetica, sans-serif">other</text>
</g>
<g id="panelD">
<text x="846" y="518.4" font-size="34" fill="#000" font-family="Liberation Sans, Arial, Helvetica, sans-serif">D</text>
<path d="M969.4,529.6 C970.8,530.8 975.7,533.6 978.0,536.6 C980.3,539.6 982.2,543.2 983.4,547.7 C984.6,552.2 985.0,557.8 985.3,563.6 C985.6,569.4 985.6,576.3 985.3,582.7 C985.0,589.1 984.1,595.4 983.4,601.8 C982.7,608.2 982.2,614.5 981.2,620.9 C980.2,627.3 978.8,633.6 977.4,640.0 C976.0,646.4 974.2,652.6 972.6,659.0 C971.0,665.4 969.4,671.8 967.8,678.2 C966.2,684.6 964.6,690.9 963.2,697.3 C961.8,703.7 960.3,710.8 959.4,716.4 C958.5,722.0 958.0,727.2 957.6,731.0 C957.2,734.8 957.1,737.7 957.0,739.0 L957.0,739.0 C956.9,737.7 956.8,734.8 956.4,731.0 C956.0,727.2 955.5,722.0 954.6,716.4 C953.7,710.8 952.2,703.7 950.8,697.3 C949.4,690.9 947.8,684.6 946.2,678.2 C944.6,671.8 943.0,665.4 941.4,659.0 C939.8,652.6 938.0,646.4 936.6,640.0 C935.2,633.6 933.8,627.3 932.8,620.9 C931.8,614.5 931.3,608.2 930.6,601.8 C929.9,595.4 929.0,589.1 928.7,582.7 C928.4,576.3 928.4,569.4 928.7,563.6 C929.0,557.8 929.4,552.2 930.6,547.7 C931.8,543.2 933.7,539.6 936.0,536.6 C938.3,533.6 943.2,530.8 944.6,529.6 Z" fill="#f8766d" stroke="#2b2b2b" stroke-width="2" stroke-linejoin="round"/>
<path d="M1071.8,529.6 C1073.6,530.5 1080.1,532.5 1082.9,535.0 C1085.6,537.5 1087.5,540.8 1088.3,544.5 C1089.1,548.2 1088.3,552.5 1087.7,557.3 C1087.1,562.1 1085.8,567.9 1084.5,573.2 C1083.2,578.5 1081.7,584.3 1079.8,589.1 C1077.9,593.9 1075.5,597.6 1073.4,601.8 C1071.3,606.0 1068.8,610.2 1067.0,614.5 C1065.2,618.8 1063.8,622.5 1062.3,627.3 C1060.8,632.1 1059.4,637.9 1058.1,643.2 C1056.8,648.5 1055.5,653.8 1054.3,659.1 C1053.1,664.4 1051.8,671.0 1050.8,675.0 C1049.8,679.0 1048.9,681.2 1048.3,683.0 C1047.7,684.8 1047.5,685.5 1047.3,686.0 L1047.3,686.0 C1047.1,685.5 1046.9,684.8 1046.3,683.0 C1045.7,681.2 1044.8,679.0 1043.8,675.0 C1042.8,671.0 1041.5,664.4 1040.3,659.1 C1039.1,653.8 1037.8,648.5 1036.5,643.2 C1035.2,637.9 1033.8,632.1 1032.3,627.3 C1030.8,622.5 1029.4,618.8 1027.6,614.5 C1025.8,610.2 1023.3,606.0 1021.2,601.8 C1019.1,597.6 1016.6,593.9 1014.8,589.1 C1012.9,584.3 1011.4,578.5 1010.1,573.2 C1008.8,567.9 1007.5,562.1 1006.9,557.3 C1006.3,552.5 1005.5,548.2 1006.3,544.5 C1007.1,540.8 1008.9,537.5 1011.7,535.0 C1014.4,532.5 1020.9,530.5 1022.8,529.6 Z" fill="#7cae00" stroke="#2b2b2b" stroke-width="2" stroke-linejoin="round"/>
<path d="M1146.8,534.0 C1147.2,536.3 1148.6,542.8 1149.4,547.7 C1150.2,552.6 1150.7,557.8 1151.6,563.6 C1152.5,569.4 1153.5,576.3 1154.8,582.7 C1156.1,589.1 1157.7,596.0 1159.5,601.8 C1161.3,607.6 1163.9,612.9 1165.9,617.7 C1167.9,622.5 1170.2,626.8 1171.6,630.5 C1173.0,634.2 1174.1,636.6 1174.2,640.0 C1174.3,643.4 1173.7,646.9 1172.3,651.1 C1170.9,655.4 1168.3,660.5 1165.9,665.5 C1163.5,670.5 1160.5,676.1 1157.9,681.4 C1155.4,686.7 1152.6,692.9 1150.6,697.3 C1148.7,701.7 1146.9,706.0 1146.2,707.8 L1129.6,707.8 C1128.9,706.0 1127.2,701.7 1125.2,697.3 C1123.2,692.9 1120.5,686.7 1117.9,681.4 C1115.4,676.1 1112.3,670.5 1109.9,665.5 C1107.5,660.5 1104.9,655.4 1103.5,651.1 C1102.1,646.9 1101.5,643.4 1101.6,640.0 C1101.7,636.6 1102.8,634.2 1104.2,630.5 C1105.6,626.8 1107.9,622.5 1109.9,617.7 C1111.9,612.9 1114.5,607.6 1116.3,601.8 C1118.2,596.0 1119.7,589.1 1121.0,582.7 C1122.3,576.3 1123.3,569.4 1124.2,563.6 C1125.1,557.8 1125.6,552.6 1126.4,547.7 C1127.2,542.8 1128.6,536.3 1129.0,534.0 Z" fill="#00bfc4" stroke="#2b2b2b" stroke-width="2" stroke-linejoin="round"/>
<path d="M1251.8,530.5 C1251.5,533.4 1250.2,542.7 1250.2,547.7 C1250.2,552.7 1250.7,556.2 1251.8,560.5 C1252.9,564.8 1254.9,569.0 1256.6,573.2 C1258.3,577.4 1260.6,581.7 1262.0,585.9 C1263.4,590.1 1264.8,594.9 1265.2,598.6 C1265.6,602.3 1265.1,605.8 1264.6,608.2 C1264.1,610.6 1262.4,612.2 1262.0,613.0 L1195.2,613.0 C1194.8,612.2 1193.1,610.6 1192.6,608.2 C1192.1,605.8 1191.6,602.3 1192.0,598.6 C1192.4,594.9 1193.8,590.1 1195.2,585.9 C1196.6,581.7 1198.9,577.4 1200.6,573.2 C1202.3,569.0 1204.3,564.8 1205.4,560.5 C1206.5,556.2 1207.0,552.7 1207.0,547.7 C1207.0,542.7 1205.7,533.4 1205.4,530.5 Z" fill="#c77cff" stroke="#2b2b2b" stroke-width="2" stroke-linejoin="round"/>
<line x1="957.0" x2="957.0" y1="529.6" y2="740.2" stroke="#2b2b2b" stroke-width="1.5"/>
<rect x="947.7" y="564.6" width="18.5" height="70.6" fill="#fff" stroke="#2b2b2b" stroke-width="2"/>
<line x1="947.7" x2="966.2" y1="599" y2="599" stroke="#2b2b2b" stroke-width="3.2"/>
<text x="957.0" y="583.9" text-anchor="middle" font-size="10.5" fill="#111" font-family="Liberation Sans, Arial, Helvetica, sans-serif">23.4</text>
<line x1="1047.3" x2="1047.3" y1="529.6" y2="686" stroke="#2b2b2b" stroke-width="1.5"/>
<rect x="1038.4" y="550.9" width="18.5" height="51.6" fill="#fff" stroke="#2b2b2b" stroke-width="2"/>
<line x1="1038.4" x2="1056.9" y1="574.5" y2="574.5" stroke="#2b2b2b" stroke-width="3.2"/>
<text x="1047.3" y="561.9" text-anchor="middle" font-size="10.5" fill="#111" font-family="Liberation Sans, Arial, Helvetica, sans-serif">24.9</text>
<line x1="1137.9" x2="1137.9" y1="534" y2="707.8" stroke="#2b2b2b" stroke-width="1.5"/>
<rect x="1128.7" y="589.7" width="18.1" height="66.8" fill="#fff" stroke="#2b2b2b" stroke-width="2"/>
<line x1="1128.7" x2="1146.8" y1="635.9" y2="635.9" stroke="#2b2b2b" stroke-width="3.2"/>
<text x="1137.9" y="606.2" text-anchor="middle" font-size="10.5" fill="#111" font-family="Liberation Sans, Arial, Helvetica, sans-serif">21.9</text>
<line x1="1228.6" x2="1228.6" y1="530.5" y2="613" stroke="#2b2b2b" stroke-width="1.5"/>
<rect x="1219.4" y="558.2" width="18.7" height="42.0" fill="#fff" stroke="#2b2b2b" stroke-width="2"/>
<line x1="1219.4" x2="1238.1" y1="585.9" y2="585.9" stroke="#2b2b2b" stroke-width="3.2"/>
<text x="1228.6" y="550.8" text-anchor="middle" font-size="10.5" fill="#111" font-family="Liberation Sans, Arial, Helvetica, sans-serif">25.6</text>
<circle cx="957.0" cy="742.8" r="4.3" fill="#2b2b2b"/>
<circle cx="957.0" cy="747.5" r="4.3" fill="#2b2b2b"/>
<circle cx="957.0" cy="752.5" r="4.3" fill="#2b2b2b"/>
<circle cx="957.0" cy="757" r="4.3" fill="#2b2b2b"/>
<circle cx="957.0" cy="761.5" r="4.3" fill="#2b2b2b"/>
<circle cx="957.0" cy="765.5" r="4.3" fill="#2b2b2b"/>
<circle cx="957.0" cy="768.6" r="4.3" fill="#2b2b2b"/>
<circle cx="1047.3" cy="685.7" r="4.3" fill="#2b2b2b"/>
<circle cx="1047.3" cy="689.5" r="4.3" fill="#2b2b2b"/>
<circle cx="1047.3" cy="693.5" r="4.3" fill="#2b2b2b"/>
<circle cx="1047.3" cy="697.7" r="4.3" fill="#2b2b2b"/>
<circle cx="1047.3" cy="707.4" r="4.3" fill="#2b2b2b"/>
<text x="1047.3" y="528" text-anchor="middle" font-size="19" fill="#111" font-family="Liberation Sans, Arial, Helvetica, sans-serif">****</text>
<text x="1137.9" y="528" text-anchor="middle" font-size="19" fill="#111" font-family="Liberation Sans, Arial, Helvetica, sans-serif">****</text>
<text x="957.0" y="838.4" text-anchor="middle" font-size="16" fill="#111" font-family="Liberation Sans, Arial, Helvetica, sans-serif">n=6726</text>
<text x="1047.3" y="838.4" text-anchor="middle" font-size="16" fill="#111" font-family="Liberation Sans, Arial, Helvetica, sans-serif">n=931</text>
<text x="1137.9" y="838.4" text-anchor="middle" font-size="16" fill="#111" font-family="Liberation Sans, Arial, Helvetica, sans-serif">n=81</text>
<text x="1228.6" y="838.4" text-anchor="middle" font-size="16" fill="#111" font-family="Liberation Sans, Arial, Helvetica, sans-serif">n=3</text>
<line x1="902.7" x2="902.7" y1="515" y2="848.1" stroke="#000" stroke-width="2.2"/>
<line x1="901.6" x2="1277" y1="847" y2="847" stroke="#000" stroke-width="2.2"/>
<line x1="897.3" x2="902.7" y1="575.5" y2="575.5" stroke="#000" stroke-width="2.2"/>
<text x="892" y="583.0" text-anchor="end" font-size="21" fill="#000" font-family="Liberation Sans, Arial, Helvetica, sans-serif">25</text>
<line x1="897.3" x2="902.7" y1="651.0" y2="651.0" stroke="#000" stroke-width="2.2"/>
<text x="892" y="658.5" text-anchor="end" font-size="21" fill="#000" font-family="Liberation Sans, Arial, Helvetica, sans-serif">20</text>
<line x1="897.3" x2="902.7" y1="726.5" y2="726.5" stroke="#000" stroke-width="2.2"/>
<text x="892" y="734.0" text-anchor="end" font-size="21" fill="#000" font-family="Liberation Sans, Arial, Helvetica, sans-serif">15</text>
<line x1="897.3" x2="902.7" y1="802.0" y2="802.0" stroke="#000" stroke-width="2.2"/>
<text x="892" y="809.5" text-anchor="end" font-size="21" fill="#000" font-family="Liberation Sans, Arial, Helvetica, sans-serif">10</text>
<line x1="957.0" x2="957.0" y1="847" y2="853" stroke="#000" stroke-width="2.2"/>
<text x="957.0" y="873.5" text-anchor="middle" font-size="21" fill="#000" font-family="Liberation Sans, Arial, Helvetica, sans-serif">A0B0C1</text>
<line x1="1047.3" x2="1047.3" y1="847" y2="853" stroke="#000" stroke-width="2.2"/>
<text x="1047.3" y="873.5" text-anchor="middle" font-size="21" fill="#000" font-family="Liberation Sans, Arial, Helvetica, sans-serif">A0B0C0</text>
<line x1="1137.9" x2="1137.9" y1="847" y2="853" stroke="#000" stroke-width="2.2"/>
<text x="1137.9" y="873.5" text-anchor="middle" font-size="21" fill="#000" font-family="Liberation Sans, Arial, Helvetica, sans-serif">A0B1C1</text>
<line x1="1228.6" x2="1228.6" y1="847" y2="853" stroke="#000" stroke-width="2.2"/>
<text x="1228.6" y="873.5" text-anchor="middle" font-size="21" fill="#000" font-family="Liberation Sans, Arial, Helvetica, sans-serif">other</text>
<text transform="translate(857.8,682) rotate(-90)" text-anchor="middle" font-size="21.5" fill="#000" font-family="Liberation Sans, Arial, Helvetica, sans-serif">Ct</text>
</g>
</svg>
<div class="frame"></div>
</body></html>
